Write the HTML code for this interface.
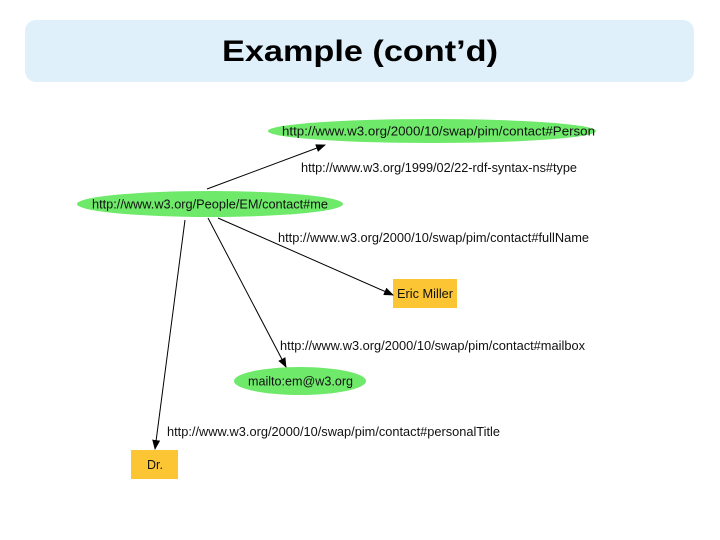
<!DOCTYPE html>
<html><head><meta charset="utf-8"><style>
html,body{margin:0;padding:0;background:#fff;}
svg{display:block}
</style></head><body>
<svg width="720" height="540" viewBox="0 0 720 540" xmlns="http://www.w3.org/2000/svg">
<defs><marker id="a" markerWidth="10" markerHeight="10" refX="9" refY="5" orient="auto" markerUnits="userSpaceOnUse"><path d="M0,1 L10,5 L0,9 z" fill="#000"/></marker></defs>
<rect x="25" y="20" width="669" height="62" rx="11" fill="#dff0fb"/>
<text x="222" y="61" textLength="276" lengthAdjust="spacingAndGlyphs" font-family="Liberation Sans, sans-serif" font-weight="bold" font-size="30" fill="#000">Example (cont’d)</text>
<g font-family="Liberation Sans, sans-serif" font-size="12.5" fill="#111">
<ellipse cx="432" cy="131" rx="164" ry="12" fill="#6ee96a"/>
<text x="282" y="135.5" textLength="313" lengthAdjust="spacingAndGlyphs">http://www.w3.org/2000/10/swap/pim/contact#Person</text>
<ellipse cx="210" cy="204" rx="133" ry="13" fill="#6ee96a"/>
<text x="92" y="208.5" textLength="236" lengthAdjust="spacingAndGlyphs">http://www.w3.org/People/EM/contact#me</text>
<ellipse cx="300" cy="381" rx="66" ry="14" fill="#6ee96a"/>
<text x="248" y="385.5" textLength="105" lengthAdjust="spacingAndGlyphs">mailto:em@w3.org</text>
<rect x="393" y="279" width="64" height="29" fill="#fbc534"/>
<text x="397" y="298" textLength="56" lengthAdjust="spacingAndGlyphs">Eric Miller</text>
<rect x="131" y="450" width="47" height="29" fill="#fbc534"/>
<text x="155" y="469" text-anchor="middle">Dr.</text>
<g stroke="#000" stroke-width="1" fill="none">
<line x1="207" y1="189" x2="325" y2="145" marker-end="url(#a)"/>
<line x1="218" y1="218" x2="393" y2="295" marker-end="url(#a)"/>
<line x1="208" y1="218" x2="286" y2="367" marker-end="url(#a)"/>
<line x1="185" y1="220" x2="155" y2="449" marker-end="url(#a)"/>
</g>
<text x="301" y="172" textLength="276" lengthAdjust="spacingAndGlyphs">http://www.w3.org/1999/02/22-rdf-syntax-ns#type</text>
<text x="278" y="242" textLength="311" lengthAdjust="spacingAndGlyphs">http://www.w3.org/2000/10/swap/pim/contact#fullName</text>
<text x="280" y="350" textLength="305" lengthAdjust="spacingAndGlyphs">http://www.w3.org/2000/10/swap/pim/contact#mailbox</text>
<text x="167" y="436" textLength="333" lengthAdjust="spacingAndGlyphs">http://www.w3.org/2000/10/swap/pim/contact#personalTitle</text>
</g>
</svg>
</body></html>
